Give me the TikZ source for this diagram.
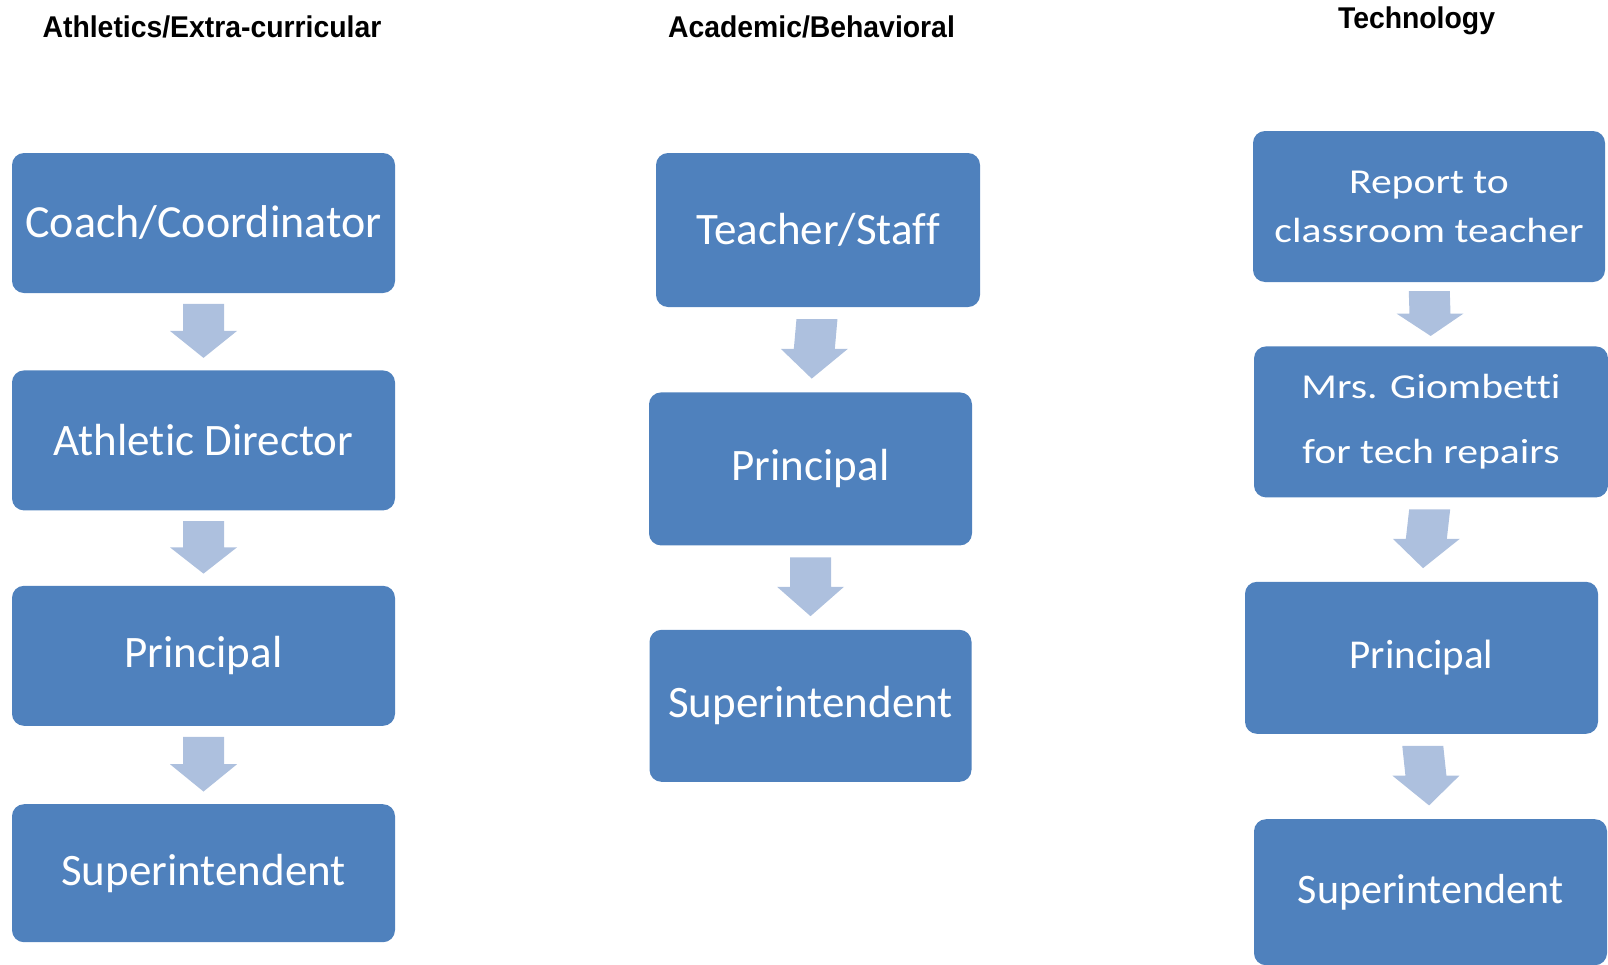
\documentclass[tikz,border=0pt]{standalone}
\usepackage{fontspec}
\setmainfont[Ligatures=NoCommon]{Carlito}
\newfontfamily\widefont[FakeStretch=1.19,Ligatures=NoCommon]{Carlito}
\newfontfamily\headfont[FakeStretch=0.945]{Liberation Sans}
\usetikzlibrary{positioning,calc}

\definecolor{boxblue}{HTML}{4F81BD}
\definecolor{arrowblue}{HTML}{ADC0DE}

% block arrow in the gap between two boxes
\newcommand{\flowarrow}[2]{%
  \coordinate (fa-s) at ($(#1.south)!0.14!(#2.north)$);
  \coordinate (fa-m) at ($(#1.south)!0.49!(#2.north)$);
  \coordinate (fa-e) at ($(#1.south)!0.84!(#2.north)$);
  \fill[arrowblue] ($(fa-s)+(-20.5,0)$) -- ($(fa-m)+(-20.5,0)$) -- ($(fa-m)+(-33.5,0)$) -- (fa-e)
    -- ($(fa-m)+(33.5,0)$) -- ($(fa-m)+(20.5,0)$) -- ($(fa-s)+(20.5,0)$) -- cycle;}

\begin{document}
\begin{tikzpicture}[x=1pt, y=-1pt,
    box/.style={rectangle, fill=boxblue, rounded corners=12pt, text=white, inner sep=0pt, align=center,
      minimum height=140pt, font=\fontsize{45}{54}\selectfont},
    head/.style={anchor=base, font=\headfont\bfseries\fontsize{30}{36}\selectfont}]
\useasboundingbox (0,0) rectangle (1608,964);

% headings
\node[head] (hath) at (212,37) {Athletics/Extra-curricular};
\node[head] (hacad) at (811.5,37) {Academic/Behavioral};
\node[head] (htech) at (1416.5,28) {Technology};

% athletics
\node[box, minimum width=383pt, font=\fontsize{46}{55}\selectfont] (coach) at (203.5,223) {Coach/Coordinator};
\node[box, minimum width=383pt, below=77pt of coach] (ad) {Athletic Director};
\node[box, minimum width=383pt, below=75pt of ad] (lprin) {Principal};
\node[box, minimum width=383pt, minimum height=138pt, below=78pt of lprin] (lsup) {Superintendent};

% academic
\node[box, minimum width=324pt, minimum height=154pt] (teach) at (818,230) {Teacher/Staff};
\node[box, minimum width=323pt, minimum height=153pt, below=85pt of teach, xshift=-7.5pt] (mprin) {Principal};
\node[box, minimum width=322pt, minimum height=152pt, below=84pt of mprin] (msup) {Superintendent};

% technology
\node[box, minimum width=352pt, minimum height=151pt, font=\widefont\fontsize{35}{49}\selectfont] (report) at (1429,206.5) {Report to\\classroom teacher};
\node[box, minimum width=354pt, minimum height=151pt, font=\widefont\fontsize{35}{65}\selectfont, below=64pt of report, xshift=2pt] (repair) {Mrs. Giombetti\\for tech repairs};
\node[box, minimum width=353pt, minimum height=152pt, font=\fontsize{41}{49}\selectfont, below=84pt of repair, xshift=-9.5pt] (rprin) {Principal};
\node[box, minimum width=353pt, minimum height=146pt, font=\fontsize{42}{50}\selectfont, below=85pt of rprin, xshift=9pt] (rsup) {Superintendent};

\flowarrow{coach}{ad}
\flowarrow{ad}{lprin}
\flowarrow{lprin}{lsup}
\flowarrow{teach}{mprin}
\flowarrow{mprin}{msup}
\flowarrow{report}{repair}
\flowarrow{repair}{rprin}
\flowarrow{rprin}{rsup}
\end{tikzpicture}
\end{document}
